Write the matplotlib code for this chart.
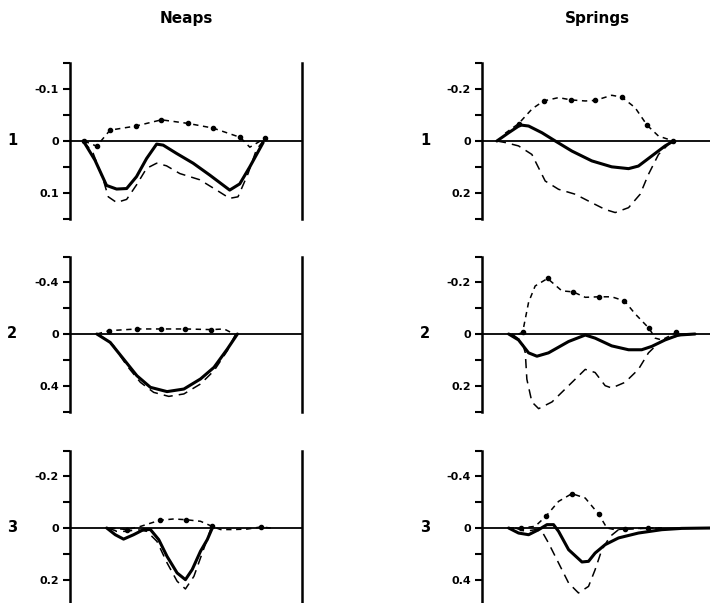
import numpy as np
import matplotlib.pyplot as plt

# x = hour of the tidal cycle (0..12), y = value (positive drawn downwards)
# --- Neaps 1
n1_solid = [(0.69, 0), (1.29, 0.037), (1.89, 0.086), (2.41, 0.093), (2.93, 0.092), (3.44, 0.069),
            (3.96, 0.034), (4.48, 0.006), (4.82, 0.008), (5.51, 0.024), (6.37, 0.043), (7.23, 0.066),
            (8.26, 0.095), (8.78, 0.083), (9.30, 0.05), (9.99, 0.003)]
n1_dash = [(0.69, 0), (1.2, 0.024), (1.72, 0.075), (1.98, 0.108), (2.41, 0.119), (2.93, 0.113),
           (3.44, 0.085), (3.96, 0.053), (4.48, 0.043), (4.99, 0.048), (5.68, 0.063), (6.71, 0.075),
           (7.58, 0.095), (8.26, 0.111), (8.69, 0.108), (9.21, 0.063), (9.64, 0.017), (9.99, 0)]
n1_dot = [(0.72, 0), (1.38, 0.01), (2.07, -0.021), (3.41, -0.029), (4.73, -0.041), (6.11, -0.034),
          (7.40, -0.025), (8.81, -0.007), (9.3, 0.012), (10.07, -0.005)]
n1_marks = [0, 1, 2, 3, 4, 5, 6, 7, 9]

# --- Springs 1
s1_solid = [(0.77, 0), (1.38, -0.032), (1.98, -0.062), (2.41, -0.058), (3.10, -0.032), (3.79, 0),
            (4.65, 0.039), (5.68, 0.077), (6.71, 0.1), (7.58, 0.107), (8.09, 0.097), (8.78, 0.058),
            (9.47, 0.019), (9.90, 0)]
s1_dash = [(0.77, 0), (1.21, 0.006), (1.89, 0.019), (2.58, 0.052), (3.27, 0.155), (3.96, 0.187),
           (4.82, 0.206), (5.68, 0.239), (6.37, 0.265), (6.89, 0.277), (7.58, 0.258), (8.18, 0.206),
           (8.61, 0.129), (9.13, 0.052), (9.64, 0.013), (9.90, 0)]
s1_dot = [(1.2, -0.03), (1.89, -0.067), (2.6, -0.125), (3.19, -0.155), (3.96, -0.168), (4.61, -0.159),
          (5.34, -0.155), (5.85, -0.157), (6.71, -0.177), (7.23, -0.170), (7.92, -0.129), (8.54, -0.061),
          (9.13, -0.019), (9.9, 0)]
s1_marks = [1, 3, 5, 7, 9, 11, 13]

# --- Neaps 2
n2_solid = [(1.39, 0), (2.08, 0.065), (2.77, 0.194), (3.46, 0.323), (4.16, 0.413), (5.02, 0.446),
            (5.89, 0.426), (6.75, 0.348), (7.45, 0.258), (8.14, 0.116), (8.66, 0)]
n2_dash = [(1.47, 0), (2.25, 0.09), (2.94, 0.245), (3.64, 0.374), (4.33, 0.452), (5.11, 0.483),
           (5.89, 0.464), (6.75, 0.387), (7.45, 0.284), (8.14, 0.129), (8.57, 0)]
n2_dot = [(1.39, 0), (2.04, -0.026), (3.46, -0.039), (4.71, -0.039), (5.97, -0.039), (7.31, -0.034),
          (7.97, -0.039), (8.49, 0)]
n2_marks = [1, 2, 3, 4, 5]

# --- Springs 2
s2_solid = [(1.38, 0), (1.89, 0.023), (2.41, 0.073), (2.84, 0.086), (3.44, 0.073), (4.48, 0.029),
            (5.34, 0.004), (5.85, 0.016), (6.71, 0.046), (7.58, 0.061), (8.26, 0.061), (8.78, 0.048),
            (9.47, 0.023), (10.16, 0.004), (11.02, 0)]
s2_dash = [(1.55, 0), (2.07, 0.029), (2.24, 0.073), (2.32, 0.175), (2.58, 0.263), (2.93, 0.289),
           (3.62, 0.263), (4.48, 0.2), (5.34, 0.137), (5.85, 0.149), (6.37, 0.2), (6.71, 0.209),
           (7.40, 0.187), (8.09, 0.137), (8.61, 0.073), (9.13, 0.035), (9.64, 0.016), (10.33, 0.004),
           (11.02, 0)]
s2_dot = [(1.89, 0), (2.1, -0.006), (2.41, -0.123), (2.75, -0.186), (3.39, -0.215), (4.13, -0.167),
          (4.71, -0.163), (5.34, -0.142), (6.03, -0.144), (6.71, -0.144), (7.37, -0.128), (7.92, -0.078),
          (8.64, -0.022), (8.96, 0.016), (9.30, 0.023), (9.64, 0.01), (10.03, -0.006), (10.33, 0)]
s2_marks = [1, 4, 6, 8, 10, 12, 16]

# --- Neaps 3
n3_solid = [(1.90, 0), (2.34, 0.026), (2.77, 0.043), (3.29, 0.026), (3.81, 0.006), (4.16, 0.006),
            (4.59, 0.045), (5.02, 0.11), (5.54, 0.174), (5.97, 0.2), (6.32, 0.161), (6.75, 0.09),
            (7.10, 0.045), (7.36, 0)]
n3_dash = [(1.99, 0), (2.42, 0.013), (2.94, 0.013), (3.46, 0.006), (3.98, 0.013), (4.50, 0.052),
           (5.02, 0.135), (5.54, 0.206), (5.97, 0.236), (6.41, 0.187), (6.84, 0.097), (7.27, 0.006)]
n3_dot = [(2.08, 0), (2.94, 0.006), (3.64, -0.006), (4.64, -0.03), (5.37, -0.035), (6.01, -0.032),
          (6.75, -0.026), (7.36, -0.006), (7.79, 0.006), (8.48, 0.006), (9.18, 0.004), (9.87, -0.004),
          (10.39, 0)]
n3_marks = [1, 3, 5, 7, 11]

# --- Springs 3
s3_solid = [(1.38, 0), (1.89, 0.039), (2.41, 0.052), (2.93, 0.013), (3.36, -0.026), (3.70, -0.026),
            (3.96, 0.026), (4.48, 0.168), (5.17, 0.263), (5.51, 0.258), (5.85, 0.194), (6.37, 0.129),
            (7.06, 0.077), (8.09, 0.039), (9.30, 0.013), (10.33, 0.003), (11.88, 0)]
s3_dash = [(1.72, 0), (2.24, 0.026), (2.75, 0.013), (3.10, 0.026), (3.44, 0.116), (3.96, 0.271),
           (4.48, 0.426), (4.99, 0.503), (5.51, 0.452), (5.85, 0.323), (6.20, 0.168), (6.63, 0.065),
           (7.06, 0.013), (7.92, 0.005), (9.30, 0)]
s3_dot = [(1.38, 0), (2.03, 0), (2.75, -0.013), (3.30, -0.09), (3.96, -0.206), (4.65, -0.266),
          (5.34, -0.232), (6.03, -0.108), (6.46, 0), (6.89, 0.013), (7.40, 0.008), (8.58, 0), (9.30, 0)]
s3_marks = [1, 3, 5, 7, 10, 11]

# axis limits, tick step, labelled ticks
neap_ylims = [0.15, 0.6, 0.3]
neap_steps = [0.05, 0.2, 0.1]
neap_labels = [[-0.1, 0, 0.1], [-0.4, 0, 0.4], [-0.2, 0, 0.2]]
spring_ylims = [0.3, 0.3, 0.6]
spring_steps = [0.1, 0.1, 0.2]
spring_labels = [[-0.2, 0, 0.2], [-0.2, 0, 0.2], [-0.4, 0, 0.4]]
row_names = ['1', '2', '3']

W, H = 710, 603
fig = plt.figure(figsize=(7.1, 6.03), dpi=100)
font = ['DejaVu Sans']


def fmt(v):
	if v == 0:
		return '0'
	return ('%.1f' % v)


def draw(ax, lim, step, labels, solid, dash, dot, marks):
	ax.set_xlim(0, 12)
	ax.set_ylim(lim, -lim)
	ticks = np.round(np.arange(-lim, lim + step / 2, step), 3)
	ax.set_yticks(ticks)
	ax.set_yticklabels([fmt(t) if any(abs(t - l) < 1e-6 for l in labels) else '' for t in ticks],
	                   fontsize=8, fontweight='bold', family=font)
	ax.set_xticks([])
	ax.tick_params(axis='y', direction='out', length=5, width=1.5, pad=3)
	for s in ['top', 'bottom']:
		ax.spines[s].set_visible(False)
	ax.spines['left'].set_linewidth(1.8)
	ax.spines['right'].set_linewidth(1.8)
	ax.axhline(0, color='black', lw=1.3, zorder=1)
	x, y = zip(*solid)
	ax.plot(x, y, color='black', lw=2.2, solid_joinstyle='round', solid_capstyle='round', zorder=4)
	x, y = zip(*dash)
	ax.plot(x, y, color='black', lw=1.1, linestyle=(0, (6, 4)), zorder=3)
	x, y = zip(*dot)
	ax.plot(x, y, color='black', lw=1.1, linestyle=(0, (3.5, 3)), marker='o', markersize=3,
	        markevery=marks, zorder=3)
	ax.patch.set_alpha(0)


neaps = [(n1_solid, n1_dash, n1_dot, n1_marks),
         (n2_solid, n2_dash, n2_dot, n2_marks),
         (n3_solid, n3_dash, n3_dot, n3_marks)]
springs = [(s1_solid, s1_dash, s1_dot, s1_marks),
           (s2_solid, s2_dash, s2_dot, s2_marks),
           (s3_solid, s3_dash, s3_dot, s3_marks)]

zero_rows = [141, 334, 528]  # pixel row of the zero line
half = 77.5
for i in range(3):
	bottom = 1 - (zero_rows[i] + half) / H
	height = 2 * half / H
	ax = fig.add_axes([70 / W, bottom, 232 / W, height])
	draw(ax, neap_ylims[i], neap_steps[i], neap_labels[i], *neaps[i])
	ax2 = fig.add_axes([482 / W, bottom, 232 / W, height])
	draw(ax2, spring_ylims[i], spring_steps[i], spring_labels[i], *springs[i])
	fig.text(12 / W, 1 - zero_rows[i] / H, row_names[i], fontsize=10.5, fontweight='bold',
	         family=font, ha='center', va='center')
	fig.text(425 / W, 1 - zero_rows[i] / H, row_names[i], fontsize=10.5, fontweight='bold',
	         family=font, ha='center', va='center')

fig.text(186 / W, 1 - 19 / H, 'Neaps', fontsize=11, fontweight='bold', family=font,
         ha='center', va='center')
fig.text(597 / W, 1 - 19 / H, 'Springs', fontsize=11, fontweight='bold', family=font,
         ha='center', va='center')

fig.savefig('out.png', dpi=100)
